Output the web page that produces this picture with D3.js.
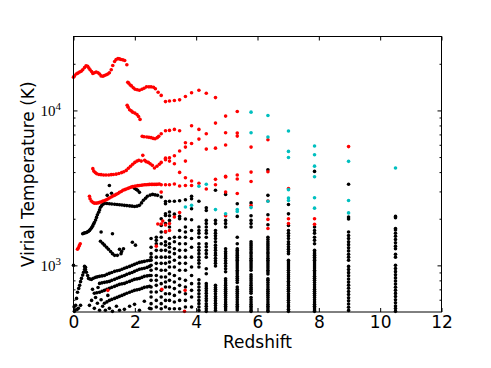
<!DOCTYPE html>
<html>
<head>
<meta charset="utf-8">
<script src="https://cdn.jsdelivr.net/npm/d3@7"></script>
<style>
  body { margin: 0; background: #fff; }
  svg { display: block; }
  text { font-family: "DejaVu Sans", sans-serif; fill: #000; }
</style>
</head>
<body>
<svg id="chart"></svg>
<script>
// Halo virial temperature vs redshift (log y)

const WIDTH = 491;
const HEIGHT = 368;

const X_TICKS = [0, 2, 4, 6, 8, 10, 12];
const Y_MAJOR = [1000, 10000];
const Y_MAJOR_LABELS = [['10', '3'], ['10', '4']];
const Y_MINOR = [600, 700, 800, 900, 2000, 3000, 4000, 5000, 6000, 7000, 8000, 9000, 20000];

// red tracks and red snapshot points [z, T]
const RED_POINTS = [
    [0.0,16400],[0.03,16700],[0.09,17200],[0.14,17400],[0.20,17700],[0.25,17900],[0.30,18300],[0.36,18900],
    [0.41,19400],[0.46,19300],[0.50,18800],[0.54,18300],[0.59,17800],[0.63,17300],[0.68,17500],[0.74,17700],
    [0.80,17500],[0.85,17200],[0.90,16700],[0.96,16600],[1.01,16800],[1.07,17000],[1.12,17200],[1.17,17500],
    [1.23,18300],[1.28,19500],[1.34,20700],[1.39,21300],[1.45,21600],[1.50,21500],[1.55,21300],[1.61,21200],
    [1.67,21000],[1.74,19700],
    [1.77,15200],[1.80,15000],[1.85,14600],[1.89,14400],[1.95,14000],[2.01,13700],[2.08,13600],[2.15,13500],
    [2.23,13700],[2.30,13900],[2.38,14200],[2.46,14200],[2.53,14200],[2.61,14100],[2.67,13800],[2.76,13100],
    [1.75,10800],[1.78,10500],[1.83,10100],[1.88,9950],[1.93,9750],[2.00,9610],[2.07,9420],[2.12,9140],[2.17,8750],
    [2.24,6800],[2.30,6760],[2.39,6730],[2.46,6700],[2.53,6670],[2.60,6600],[2.66,6570],[2.73,6670],[2.78,6800],
    [0.63,4210],[0.66,4060],[0.71,3970],[0.76,3900],[0.83,3860],[0.90,3850],[0.98,3830],[1.06,3830],[1.15,3830],
    [1.23,3850],[1.30,3860],[1.39,3880],[1.48,3920],[1.57,3970],[1.64,4020],[1.72,4100],[1.79,4230],[1.86,4360],
    [1.93,4490],[2.00,4620],[2.07,4710],[2.13,4760],[2.21,4710],[2.26,5130],[2.32,4760],[2.37,4670],[2.44,4620],
    [2.50,4530],[2.57,4420],[2.64,4250],[2.72,4360],[2.80,4490],
    [0.52,2790],[0.54,2690],[0.58,2600],[0.63,2550],[0.68,2520],[0.74,2520],[0.80,2530],[0.85,2550],[0.91,2570],
    [0.96,2600],[1.02,2620],[1.07,2650],[1.12,2680],[1.17,2720],[1.23,2760],[1.28,2800],[1.34,2830],[1.39,2870],
    [1.45,2910],[1.50,2960],[1.56,3000],[1.61,3050],[1.67,3080],[1.72,3110],[1.78,3140],[1.83,3170],[1.88,3200],
    [1.93,3220],[1.99,3240],[2.04,3250],[2.10,3270],[2.15,3280],[2.21,3290],[2.26,3300],[2.32,3310],[2.37,3310],
    [2.43,3320],[2.48,3330],[2.54,3330],[2.59,3330],[2.65,3330],[2.70,3330],[2.75,3340],[2.80,3350],
    [0.13,1270],[0.16,1300],[0.19,1340],[0.22,1380],
    [2.75,1850],[2.86,1850],[2.91,1930],[3.0,1820],[3.13,1860],[3.29,2050],[3.46,2190],[3.0,1650],[3.13,1680],
    [2.70,1330],[1.12,690],[2.88,700],[3.64,690],[3.62,505],
    [2.86,12500],[2.86,7070],[2.86,4620],[2.86,3310],[2.86,2970],
    [3.0,11400],[3.0,7390],[3.0,4810],[3.0,4920],[3.0,3310],
    [3.13,11500],[3.13,7430],[3.13,4950],[3.13,4710],[3.13,3310],
    [3.29,11600],[3.29,7540],[3.29,4530],[3.29,5100],[3.29,3350],
    [3.46,11700],[3.46,7390],[3.46,5470],[3.46,3980],[3.46,3250],
    [3.65,12300],[3.65,6190],[3.65,5800],[3.65,4710],[3.65,3680],[3.65,3280],
    [3.85,13000],[3.85,7960],[3.85,6120],[3.85,3500],[3.85,3280],
    [4.09,13500],[4.09,7540],[4.09,6530],[4.09,3390],
    [4.33,12900],[4.33,7070],[4.33,5630],[4.33,3110],
    [4.63,12100],[4.63,8280],[4.63,5710],[4.63,3590],[4.63,3310],
    [4.96,9190],[4.96,7180],[4.96,5980],[4.96,3750],[4.96,3720],[4.96,2970],[4.96,2090],
    [5.34,9850],[5.34,7140],[5.34,6830],[5.34,3830],[5.34,3610],[5.34,2910],
    [5.79,5800],[5.79,4000],[5.79,3480],[5.79,2430],
    [6.34,6470],[6.34,4020],[6.34,2600],[6.34,1980],[6.34,1730],
    [7.01,3130],[7.01,2000],[7.01,1860],
    [7.86,2000],[7.86,1840],
    [8.97,5840]
];

const CYAN_POINTS = [
    [3.65,2380],[3.85,2440],[4.09,3240],[4.33,3340],[4.63,2290],[4.96,2150],[5.34,2290],[5.34,2230],
    [5.79,9750],[5.79,7180],[5.79,2360],[6.34,9280],[6.34,6730],[6.34,2590],
    [7.01,7360],[7.01,5440],[7.01,4970],[7.01,3080],[7.01,2720],[7.01,2620],
    [7.86,5890],[7.86,5180],[7.86,4370],[7.86,3730],[7.86,2730],[7.86,2340],
    [8.97,4690],[8.97,2620],[8.97,2180],[10.5,4250]
];

// black low-redshift tracks [z, T]
const BLACK_TRACKS = [
    [0.0,1000],
    [0.02,540],[0.03,505],[0.05,515],[0.07,552],[0.10,612],[0.12,520],[0.13,670],[0.16,528],[0.17,710],[0.20,743],
    [0.23,785],[0.23,552],[0.26,824],[0.30,865],[0.33,902],[0.36,940],[0.39,971],
    [0.30,1600],[0.33,1610],[0.37,1620],[0.42,1630],[0.46,1645],[0.49,1660],[0.52,1680],[0.55,1710],[0.59,1750],
    [0.62,1790],[0.65,1840],[0.68,1890],[0.72,1960],[0.75,2040],[0.78,2120],[0.82,2200],[0.85,2280],[0.88,2370],
    [0.92,2430],[0.96,2480],
    [1.01,2510],[1.09,2510],[1.17,2500],[1.25,2490],[1.34,2480],[1.42,2470],[1.50,2460],[1.58,2450],[1.66,2440],
    [1.74,2430],[1.83,2420],[1.91,2410],[1.99,2400],[2.07,2410],[2.15,2440],[2.22,2530],[2.28,2630],[2.35,2710],
    [2.41,2790],[2.50,2840],[2.58,2870],[2.66,2850],[2.74,2830],
    [1.17,3280],[1.99,3140],[2.05,3090],[2.09,3050],[2.15,2960],[1.10,2830],[1.24,2920],
    [0.88,1430],[0.90,1640],[0.95,1390],[1.01,1350],[1.08,1310],[1.14,1270],[1.21,1230],[1.27,1190],[1.27,1600],
    [1.34,1160],[1.43,1160],[1.50,1270],[1.57,1230],[1.63,1280],[1.55,1190],[1.92,1410],[2.02,1350],
    [0.36,985],[0.39,940],[0.42,902],[0.46,860],[0.49,824],[0.54,815],[0.59,812],[0.65,825],[0.72,837],[0.78,843],
    [0.85,849],[0.93,855],[1.01,861],[1.09,875],[1.17,888],[1.25,900],[1.34,915],[1.42,922],[1.50,929],[1.58,943],
    [1.66,957],[1.74,970],[1.83,985],[1.91,1000],[1.99,1015],[2.07,1030],[2.15,1045],[2.23,1053],[2.31,1061],
    [2.40,1070],[2.48,1077],
    [0.85,765],[0.93,771],[1.01,777],[1.09,782],[1.17,788],[1.25,800],[1.34,812],[1.42,825],[1.50,837],[1.58,849],
    [1.66,861],[1.74,875],[1.83,888],[1.91,900],[1.99,915],[2.07,929],[2.15,943],[2.23,950],[2.31,957],[2.40,970],
    [2.48,985],
    [0.68,660],[0.76,665],[0.85,670],[0.93,680],[1.01,690],[1.09,700],[1.17,711],[1.25,721],[1.34,732],[1.42,743],
    [1.50,754],[1.58,760],[1.66,765],[1.74,777],[1.83,788],[1.91,800],[1.99,812],[2.07,818],[2.15,824],[2.23,836],
    [2.31,849],[2.40,855],[2.48,861],
    [1.01,569],[1.09,581],[1.17,594],[1.25,603],[1.34,612],[1.42,621],[1.50,631],[1.58,640],[1.66,650],[1.74,660],
    [1.83,670],[1.91,680],[1.99,690],[2.07,695],[2.15,700],[2.23,710],[2.31,721],[2.40,726],[2.48,732],
    [0.52,552],[0.59,594],[0.68,528],[0.78,569],[0.85,513],[0.95,544],[1.04,513],[1.17,528],[1.27,505],[1.40,544],
    [1.50,513],[1.66,520],[1.83,544],[1.99,560],[2.15,513],[2.31,586],[2.48,528],[0.72,620],[0.90,600],[1.12,640],
    [0.62,700],[0.80,720]
];

// black points at the simulation snapshots: redshift and temperatures
const SNAPSHOT_Z = [2.53, 2.70, 2.86, 3.0, 3.13, 3.29, 3.46, 3.65, 3.85, 4.09, 4.33, 4.63, 4.96, 5.34, 5.79,
    6.34, 7.01, 7.86, 8.97, 10.5];
const SNAPSHOT_T = [
    [1490, 1310, 1190, 1130, 1080, 1000, 929, 861, 800, 725, 673, 625, 566, 525],
    [1520, 1450, 1380, 1250, 1130, 1030, 951, 861, 800, 743, 673, 594, 538],
    [2760, 2000, 1810, 1640, 1520, 1380, 1250, 1130, 1030, 929, 841, 762, 690, 625, 566, 525],
    [2580, 2500, 2150, 2100, 1860, 1640, 1420, 1350, 1250, 1130, 1030, 929, 841, 781, 725, 656, 594, 538],
    [2590, 2210, 2090, 1950, 1770, 1490, 1380, 1310, 1220, 1130, 1050, 975, 883, 800, 725, 656, 594, 525],
    [2590, 2140, 1520, 1420, 1280, 1190, 1080, 975, 861, 781, 708, 640, 580, 525],
    [2610, 2070, 2000, 1680, 1520, 1380, 1250, 1130, 1030, 929, 820, 743, 673, 594, 525],
    [2650, 1990, 1770, 1640, 1520, 1380, 1250, 1130, 1030, 929, 800, 725, 656, 594, 538],
    [2790, 2690, 2320, 1970, 1680, 1490, 1310, 1130, 975, 861, 762, 690, 625, 538],
    [2590, 1770, 1680, 1610, 1520, 1380, 1310, 1250, 1190, 1130, 1080, 1030, 975, 806, 762, 725, 690, 656, 625,
        594, 566, 538, 512],
    [2350, 2260, 1950, 1860, 1770, 1680, 1610, 1520, 1380, 1320, 1250, 1190, 1130, 951, 883, 762, 735, 710, 685,
        660, 635, 610, 590, 565, 545, 525, 505],
    [3050, 1950, 1860, 1680, 1610, 1550, 1490, 1420, 1350, 1300, 1250, 1200, 1160, 1110, 1070, 1030, 990, 743, 720,
        700, 680, 655, 630, 610, 590, 570, 550, 530, 512],
    [2870, 1950, 1860, 1770, 1280, 1230, 1190, 1150, 1110, 1070, 1030, 990, 950, 910, 820, 795, 770, 745, 720, 700,
        680, 660, 640, 620, 600, 580, 560, 545, 530, 515],
    [2500, 2070, 1520, 1380, 1280, 1250, 1220, 1190, 1160, 1130, 1100, 1080, 1050, 1020, 990, 960, 930, 905, 880,
        850, 825, 800, 775, 725, 700, 680, 660, 640, 620, 600, 580, 560, 545, 530, 515],
    [2530, 2090, 1950, 1860, 1770, 1420, 1380, 1340, 1300, 1260, 1220, 1190, 1150, 1110, 1080, 1050, 1020, 990, 960,
        930, 870, 845, 820, 795, 770, 745, 720, 700, 680, 660, 620, 600, 580, 560, 545, 530, 515, 505],
    [4140, 2830, 2120, 1830, 1520, 1470, 1420, 1380, 1340, 1300, 1260, 1220, 1190, 1150, 1110, 1080, 1050, 1020,
        990, 960, 930, 905, 880, 820, 800, 775, 750, 725, 700, 680, 660, 640, 620, 600, 580, 560, 545, 530, 515, 505],
    [2470, 2150, 1810, 1680, 1610, 1550, 1490, 1420, 1370, 1320, 1270, 1230, 1190, 1080, 1050, 1020, 990, 960, 930,
        900, 870, 845, 820, 790, 770, 745, 720, 700, 680, 655, 635, 615, 595, 575, 555, 540, 520, 505],
    [4040, 1770, 1680, 1610, 1520, 1450, 1380, 1250, 1220, 1190, 1160, 1130, 1100, 1080, 1050, 1020, 990, 960, 930,
        905, 880, 850, 825, 800, 775, 750, 725, 700, 680, 660, 640, 620, 600, 580, 560, 545, 530, 515, 505],
    [3340, 2050, 1990, 1640, 1560, 1490, 1420, 1360, 1300, 1240, 1180, 1130, 1080, 985, 940, 897, 856, 817, 780,
        745, 711, 678, 648, 618, 590, 563, 537, 512],
    [2070, 2030, 1730, 1690, 1610, 1540, 1470, 1400, 1330, 1280, 1180, 1130, 1000, 955, 911, 870, 830, 793, 757,
        723, 690, 659, 629, 600, 573, 547, 526, 505]
];

const margin = { left: 73.5, right: 49.5, top: 36.5, bottom: 56 };

function makeChart() {
    let svg = d3.select('#chart')
        .attr('width', WIDTH)
        .attr('height', HEIGHT);

    svg.append('rect')
        .attr('width', WIDTH)
        .attr('height', HEIGHT)
        .attr('fill', '#fff');

    let x = d3.scaleLinear()
        .domain([0, 12])
        .range([margin.left, WIDTH - margin.right]);
    let y = d3.scaleLog()
        .domain([500, 30000])
        .range([HEIGHT - margin.bottom, margin.top]);

    // flatten snapshot columns into points
    let black = BLACK_TRACKS.slice();
    SNAPSHOT_Z.forEach((z, i) => {
        SNAPSHOT_T[i].forEach(t => black.push([z, t]));
    });

    let layers = [
        { pts: black, color: '#000000' },
        { pts: RED_POINTS, color: '#ff0000' },
        { pts: CYAN_POINTS, color: '#00bfbf' },
    ];

    let plot = svg.append('g');
    layers.forEach(layer => {
        plot.append('g')
            .selectAll('circle')
            .data(layer.pts)
            .enter().append('circle')
            .attr('cx', d => x(d[0]))
            .attr('cy', d => y(d[1]))
            .attr('r', 1.8)
            .attr('fill', layer.color);
    });

    let bottom = HEIGHT - margin.bottom;
    let right = WIDTH - margin.right;

    // x axes (ticks inside)
    let xAxis = svg.append('g')
        .attr('transform', `translate(0,${bottom})`)
        .call(d3.axisBottom(x).tickValues(X_TICKS).tickSize(-4).tickSizeOuter(0).tickPadding(4)
            .tickFormat(d3.format('d')));
    xAxis.selectAll('text').style('font-size', '17px').style('font-family', '"DejaVu Sans"');

    svg.append('g')
        .attr('transform', `translate(0,${margin.top})`)
        .call(d3.axisTop(x).tickValues(X_TICKS).tickSize(-4).tickSizeOuter(0).tickFormat(''));

    // y axes, major and minor, both sides
    [[margin.left, d3.axisLeft], [right, d3.axisRight]].forEach(([pos, ax]) => {
        svg.append('g')
            .attr('transform', `translate(${pos},0)`)
            .call(ax(y).tickValues(Y_MAJOR).tickSize(-4).tickSizeOuter(0).tickFormat(''));
        svg.append('g')
            .attr('transform', `translate(${pos},0)`)
            .call(ax(y).tickValues(Y_MINOR).tickSize(-2).tickSizeOuter(0).tickFormat(''));
    });
    svg.selectAll('.domain').remove();
    svg.selectAll('.tick line').attr('stroke', '#000').attr('stroke-width', 1);

    // y tick labels with superscript
    Y_MAJOR.forEach((v, i) => {
        let t = svg.append('text')
            .attr('x', margin.left - 18)
            .attr('y', y(v) + 6)
            .attr('text-anchor', 'end')
            .style('font-family', '"Liberation Serif", serif')
            .style('font-size', '15px');
        t.append('tspan').text(Y_MAJOR_LABELS[i][0]);
        t.append('tspan')
            .attr('x', margin.left - 18)
            .attr('dy', -6)
            .attr('text-anchor', 'start')
            .style('font-size', '11px')
            .text(Y_MAJOR_LABELS[i][1]);
    });

    // frame
    svg.append('rect')
        .attr('x', margin.left)
        .attr('y', margin.top)
        .attr('width', right - margin.left)
        .attr('height', bottom - margin.top)
        .attr('fill', 'none')
        .attr('stroke', '#000')
        .attr('stroke-width', 1);

    svg.append('text')
        .attr('x', (margin.left + right) / 2)
        .attr('y', 348)
        .attr('text-anchor', 'middle')
        .style('font-size', '17px')
        .text('Redshift');

    svg.append('text')
        .attr('transform', `translate(34,${(margin.top + bottom) / 2}) rotate(-90)`)
        .attr('text-anchor', 'middle')
        .style('font-size', '17px')
        .text('Virial Temperature (K)');
}

makeChart();
</script>
</body>
</html>
